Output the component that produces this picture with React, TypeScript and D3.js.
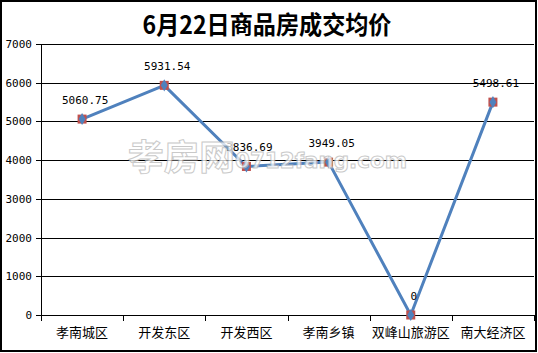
import React from 'react';
import * as d3 from 'd3';

const title = '6月22日商品房成交均价';
const categories = ['孝南城区', '开发东区', '开发西区', '孝南乡镇', '双峰山旅游区', '南大经济区'];
const prices = [5060.75, 5931.54, 3836.69, 3949.05, 0, 5498.61];
const priceLabels = ['5060.75', '5931.54', '3836.69', '3949.05', '0', '5498.61'];
const yTicks = [0, 1000, 2000, 3000, 4000, 5000, 6000, 7000];

export default function App() {
  const W = 538, H = 353;
  const left = 41, right = 534, top = 44, bottom = 315;
  const x = d3.scaleBand<string>().domain(categories).range([left, right]).padding(0);
  const y = d3.scaleLinear().domain([0, 7000]).range([bottom, top]);
  const cx = (i: number) => (x(categories[i]) as number) + x.bandwidth() / 2;
  const line = d3.line<number>().x((_, i) => cx(i)).y(d => y(d));
  const diamond = d3.symbol().type(d3.symbolDiamond).size(42)();
  const boundaries = categories.map(c => x(c) as number).concat([right]);
  const mono = '"DejaVu Sans Mono", "Liberation Mono", monospace';
  const cjk = '"Noto Sans CJK SC", "Noto Sans", sans-serif';

  return (
    <svg width={W} height={H} style={{ position: 'fixed', left: 0, top: 0, background: '#fff' }}>
      <rect x={0} y={0} width={W} height={H} fill="#fff" />
      <rect x={1} y={1} width={535} height={350} fill="none" stroke="#000" strokeWidth={2} />
      <text x={267} y={34} textAnchor="middle" fontFamily={cjk} fontWeight="bold" fontSize={25} fill="#000"
        textLength={249} lengthAdjust="spacingAndGlyphs">{title}</text>

      {/* gridlines */}
      {yTicks.map(t => (
        <g key={t}>
          <line x1={left - 5} x2={right} y1={Math.round(y(t)) + 0.5} y2={Math.round(y(t)) + 0.5} stroke="#000" strokeWidth={1} />
          <text x={32} y={Math.round(y(t)) + 4} textAnchor="end" fontFamily={mono} fontSize={11} fill="#000">{t}</text>
        </g>
      ))}
      {/* y axis */}
      <line x1={left + 0.5} x2={left + 0.5} y1={top} y2={bottom + 1} stroke="#000" strokeWidth={1} />
      {/* x axis ticks */}
      {boundaries.map((b, i) => (
        <line key={i} x1={Math.round(b) + 0.5} x2={Math.round(b) + 0.5} y1={bottom} y2={bottom + 6} stroke="#000" strokeWidth={1} />
      ))}
      {categories.map((c, i) => (
        <text key={c} x={cx(i)} y={337} textAnchor="middle" fontFamily={cjk} fontSize={13} fill="#000">{c}</text>
      ))}

      {/* line */}
      <path d={line(prices) || ''} fill="none" stroke="#4F81BD" strokeWidth={3} strokeLinejoin="round" />
      {prices.map((v, i) => (
        <g key={i} transform={`translate(${cx(i)},${y(v)})`}>
          <rect x={-4.5} y={-4.5} width={9} height={9} fill="#C0504D" />
          <path d={diamond || ''} fill="#4F81BD" />
        </g>
      ))}
      {prices.map((v, i) => (
        <text key={'l' + i} x={cx(i) + 3} y={y(v) - 15} textAnchor="middle" fontFamily={mono} fontSize={11} fill="#000">{priceLabels[i]}</text>
      ))}

      {/* watermark */}
      <g opacity={0.75}>
        <text x={128} y={170} fontFamily={cjk} fontWeight="bold" fontSize={35} fill="#fff" stroke="#b8b8b8" strokeWidth={1}
          textLength={107} lengthAdjust="spacingAndGlyphs">孝房网</text>
        <text x={235} y={168} fontFamily='"DejaVu Sans", sans-serif' fontWeight="bold" fontSize={21} fill="#fff" stroke="#b8b8b8" strokeWidth={1}
          textLength={172} lengthAdjust="spacingAndGlyphs">0712fang.com</text>
      </g>
    </svg>
  );
}
